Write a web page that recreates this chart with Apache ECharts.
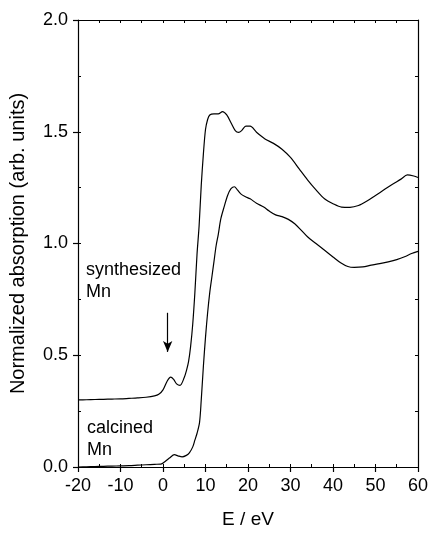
<!DOCTYPE html>
<html>
<head>
<meta charset="utf-8">
<script src="https://cdn.jsdelivr.net/npm/echarts@6/dist/echarts.min.js"></script>
<style>html,body{margin:0;padding:0;background:#fff}#c{width:431px;height:534px}</style>
</head>
<body>
<div id="c"></div>
<script>
// Synthesized Mn
var synE = [-20,-18,-16,-14,-12,-10,-8,-6,-4,-2,-1,0,1,1.8,2.5,3.2,4,5,5.5,6,6.5,7,7.5,8,8.5,9,9.5,10,10.5,11,12,13,14,15,16,17,17.8,18.5,19.5,20.5,22,24,26,28,30,32,34,36,38,40,42,44,46,48,50,52,54,56,57.5,59,60];
var synV = [0.300,0.301,0.302,0.303,0.304,0.305,0.307,0.309,0.312,0.318,0.325,0.345,0.385,0.402,0.392,0.372,0.365,0.40,0.43,0.47,0.54,0.64,0.78,0.95,1.08,1.26,1.40,1.51,1.555,1.575,1.580,1.580,1.590,1.575,1.540,1.505,1.497,1.505,1.525,1.525,1.498,1.468,1.448,1.422,1.385,1.335,1.285,1.240,1.200,1.178,1.163,1.162,1.170,1.190,1.215,1.240,1.265,1.288,1.307,1.302,1.295];
// Calcined Mn
var calE = [-20,-18,-16,-14,-12,-10,-8,-6,-4,-2,-0.5,0.5,1.5,2.7,3.5,4.5,5.5,6.2,7,7.5,8,8.6,9,9.5,10,10.5,11,11.5,12,12.5,13,13.6,14.4,15.2,16,16.8,17.5,18.3,19.3,20.5,22,23.7,25,26.5,28,29.5,31,32.5,34,36,37.8,40,41.8,43.5,45,47,49,51,53,55,57,58.5,60];
var calV = [0.000,0.001,0.002,0.003,0.004,0.005,0.006,0.008,0.010,0.012,0.013,0.025,0.040,0.055,0.050,0.045,0.052,0.063,0.09,0.12,0.15,0.20,0.30,0.45,0.58,0.69,0.78,0.85,0.92,0.99,1.04,1.11,1.165,1.215,1.245,1.254,1.240,1.222,1.210,1.200,1.180,1.163,1.145,1.128,1.120,1.108,1.088,1.060,1.030,1.000,0.973,0.940,0.914,0.897,0.893,0.895,0.903,0.910,0.918,0.928,0.942,0.955,0.965];
// Axis ticks
var xTicks = [-20,-10,0,10,20,30,40,50,60];
var yTicks = [0.0,0.5,1.0,1.5,2.0];
var labels = ['synthesized\nMn','calcined\nMn'];
var arrowE = 1.1, arrowTop = 0.69, arrowBottom = 0.515;

function zip(a,b){return a.map(function(v,i){return [v,b[i]];});}
var FONT = '"Liberation Sans", Arial, Helvetica, sans-serif';
var chart = echarts.init(document.getElementById('c'), null, {renderer:'canvas'});
var axLine = {show:true, onZero:false, lineStyle:{color:'#000', width:1.2}};
var noLine = {show:false, onZero:false};
chart.setOption({
  animation:false,
  backgroundColor:'#fff',
  textStyle:{fontFamily:FONT},
  grid:{left:78, right:12, top:20, bottom:60},
  xAxis:[
    {type:'value', min:xTicks[0], max:xTicks[xTicks.length-1], interval:10, position:'bottom',
     axisLine:axLine, axisTick:{show:true, inside:false, length:5, lineStyle:{color:'#000',width:1.2}},
     axisLabel:{color:'#000', fontSize:18, fontFamily:FONT, margin:10, formatter:function(v){return String(v);}},
     splitLine:{show:false},
     name:'E / eV', nameLocation:'middle', nameGap:43, nameTextStyle:{color:'#000', fontSize:19, fontFamily:FONT}},
    {type:'value', min:-20, max:60, interval:5, position:'bottom',
     axisLine:noLine, axisTick:{show:true, inside:true, length:3, lineStyle:{color:'#000',width:1}},
     axisLabel:{show:false}, splitLine:{show:false}},
    {type:'value', min:-20, max:60, interval:5, position:'top',
     axisLine:axLine, axisTick:{show:true, inside:true, length:3, lineStyle:{color:'#000',width:1}},
     axisLabel:{show:false}, splitLine:{show:false}}
  ],
  yAxis:[
    {type:'value', min:yTicks[0], max:yTicks[yTicks.length-1], interval:0.5, position:'left',
     axisLine:axLine, axisTick:{show:true, inside:false, length:5, lineStyle:{color:'#000',width:1.2}},
     axisLabel:{color:'#000', fontSize:18, fontFamily:FONT, margin:10, formatter:function(v){return v.toFixed(1);}},
     splitLine:{show:false},
     name:'Normalized absorption (arb. units)', nameLocation:'middle', nameGap:50, nameTextStyle:{color:'#000', fontSize:20, fontFamily:FONT}},
    {type:'value', min:0, max:2, interval:0.25, position:'left',
     axisLine:noLine, axisTick:{show:true, inside:true, length:3, lineStyle:{color:'#000',width:1}},
     axisLabel:{show:false}, splitLine:{show:false}},
    {type:'value', min:0, max:2, interval:0.25, position:'right',
     axisLine:axLine, axisTick:{show:true, inside:true, length:3, lineStyle:{color:'#000',width:1}},
     axisLabel:{show:false}, splitLine:{show:false}}
  ],
  series:[
    {type:'line', name:'synthesized Mn', data:zip(synE,synV), showSymbol:false, smooth:0.3,
     lineStyle:{color:'#000', width:1.2}, itemStyle:{color:'#000'},
     markLine:{silent:true, symbol:['none','arrow'], symbolSize:[7,11], label:{show:false},
       lineStyle:{color:'#000', width:1.2, type:'solid'},
       data:[[{coord:[arrowE,arrowTop]},{coord:[arrowE,arrowBottom]}]]}},
    {type:'line', name:'calcined Mn', data:zip(calE,calV), showSymbol:false, smooth:0.3,
     lineStyle:{color:'#000', width:1.2}, itemStyle:{color:'#000'}}
  ],
  graphic:[
    {type:'text', left:86, top:259, style:{text:labels[0], fill:'#000', font:'18px '+FONT, lineHeight:22}},
    {type:'text', left:87, top:417, style:{text:labels[1], fill:'#000', font:'18px '+FONT, lineHeight:22}}
  ]
});
</script>
</body>
</html>
